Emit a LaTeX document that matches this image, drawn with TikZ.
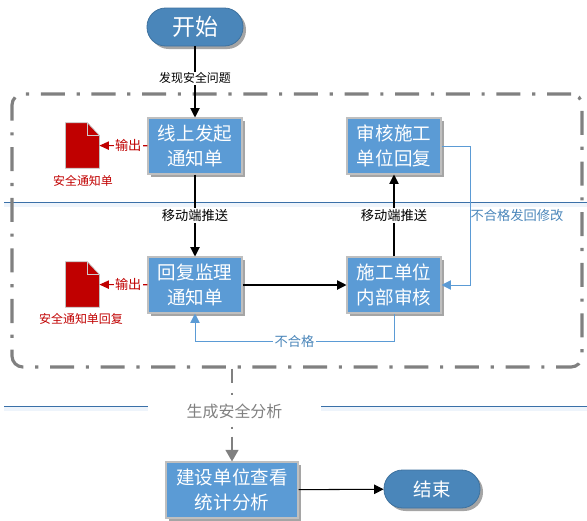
\documentclass[tikz,border=0pt]{standalone}
\usepackage{fontspec}
\setmainfont{Noto Sans CJK SC}
\usetikzlibrary{positioning, shadows, arrows.meta}

\definecolor{boxblue}{HTML}{5B9BD5}
\definecolor{pillblue}{HTML}{4A86BA}
\definecolor{ruleblue}{HTML}{3A70A8}
\definecolor{bandblue}{HTML}{EEF4FB}
\definecolor{linkblue}{HTML}{5B9BD5}
\definecolor{textblue}{HTML}{4A86BA}
\definecolor{docred}{HTML}{C00000}
\definecolor{framegray}{HTML}{808080}

\tikzset{
  softshadow/.style={drop shadow={shadow xshift=0.09cm, shadow yshift=-0.09cm, fill=black!70, opacity=0.5}},
  flowbox/.style={rectangle, fill=boxblue, draw=black!25, line width=0.9pt, softshadow, text=white, align=center,
    minimum width=2.82cm, minimum height=1.68cm, inner sep=0pt, font=\fontsize{15.8}{22}\selectfont},
  pill/.style={rectangle, rounded corners=0.56cm, fill=pillblue, draw=pillblue!85!black, line width=0.7pt, softshadow,
    text=white, minimum width=2.88cm, minimum height=1.14cm, inner sep=0pt},
  docicon/.style={rectangle, minimum width=1cm, minimum height=1.35cm, inner sep=0pt},
  tagtext/.style={fill=white, inner sep=1pt, text=black, font=\fontsize{11.3}{13}\selectfont},
  flow/.style={draw=black, line width=0.9pt, -{Triangle[width=8pt,length=8pt]}},
  backflow/.style={draw=linkblue, line width=0.85pt, -{Triangle[width=8pt,length=8pt]}},
  outflow/.style={draw=docred, line width=1pt, -{Triangle[width=7pt,length=8pt]}},
  rule/.style={draw=ruleblue, line width=0.8pt},
  band/.style={fill=bandblue}
}

\newcommand{\docshape}[1]{
  \draw[fill=docred, draw=black!25, line width=0.6pt] (#1.north west) -- ([xshift=-0.36cm]#1.north east)
    -- ([yshift=-0.38cm]#1.north east) -- (#1.south east) -- (#1.south west) -- cycle;
  \draw[draw=black!20, line width=0.6pt] ([xshift=-0.36cm]#1.north east) -- ([xshift=-0.36cm,yshift=-0.38cm]#1.north east)
    -- ([yshift=-0.38cm]#1.north east);
}

\begin{document}
\begin{tikzpicture}[x=0.03cm, y=-0.03cm]
\useasboundingbox (0,0) rectangle (587,520);

\coordinate (ruleAleft) at (4,202);
\coordinate (ruleAright) at (587,202);
\coordinate (ruleBleft) at (4,406);
\coordinate (ruleBright) at (587,406);
\fill[band] (4,202) rectangle (587,207);
\fill[band] (4,406) rectangle (587,411);
\draw[rule] (ruleAleft) -- (ruleAright);
\draw[rule] (ruleBleft) -- (ruleBright);

\node (frame) [rectangle, rounded corners=0.33cm, draw=framegray, line width=2.7pt, minimum width=17.1cm, minimum height=8.19cm,
  dash pattern=on 20.5pt off 10pt on 2.7pt off 10pt] at (297,230.5) {};

\node (start) [pill, font=\fontsize{19.6}{22}\selectfont] at (195,27) {开始};
\node (launch) [flowbox] at (195,146) {线上发起\\通知单};
\node (reply) [flowbox] at (195,285) {回复监理\\通知单};
\node (review) [flowbox] at (394,146) {审核施工\\单位回复};
\node (inner) [flowbox] at (394,285) {施工单位\\内部审核};
\node (stats) [flowbox, minimum width=3.96cm] at (232,490) {建设单位查看\\统计分析};
\node (finish) [pill, font=\fontsize{15.8}{22}\selectfont] at (432,489) {结束};

\node (noticedoc) [docicon] at (82.5,145.5) {};
\node (replydoc) [docicon] at (82.5,284.5) {};
\docshape{noticedoc}
\docshape{replydoc}
\node (noticename) [text=docred, inner sep=0pt, font=\fontsize{10.2}{12}\selectfont] at (83,181) {安全通知单};
\node (replyname) [text=docred, inner sep=0pt, font=\fontsize{10.2}{12}\selectfont] at (81,319) {安全通知单回复};

\draw[flow] (start) -- node[tagtext, pos=0.45, font=\fontsize{10.2}{12}\selectfont] (findtag) {发现安全问题} (launch);
\draw[flow] (launch) -- node[tagtext] (pushtagA) {移动端推送} (reply);
\draw[flow] (inner) -- node[tagtext] (pushtagB) {移动端推送} (review);
\draw[flow] (reply) -- (inner);
\draw[flow] (stats) -- (finish);

\draw[outflow] (launch) -- node[tagtext, text=docred, pos=0.4] (outtagA) {输出} (noticedoc);
\draw[outflow] (reply) -- node[tagtext, text=docred, pos=0.4] (outtagB) {输出} (replydoc);

\draw[backflow] (review.east) -- ++(29,0) |- (inner.east);
\node (failtagA) [text=textblue, inner sep=0pt, font=\fontsize{11.3}{13}\selectfont] at (517,215) {不合格发回修改};
\draw[backflow] (inner.south) -- ++(0,28) -| node[tagtext, text=textblue, pos=0.25] (failtagB) {不合格} (reply.south);

\node (analysis) [fill=white, text=framegray, minimum width=5.19cm, minimum height=0.75cm, inner sep=0pt,
  font=\fontsize{13.6}{16}\selectfont] at (234.5,411) {生成安全分析};
\draw[draw=framegray, line width=1.8pt, dash pattern=on 12pt off 8.5pt on 2pt off 27pt on 2pt off 6.5pt on 40pt,
  -{Triangle[width=11pt,length=10pt]}] (frame.south -| stats.north) -- (stats.north);
\end{tikzpicture}
\end{document}
